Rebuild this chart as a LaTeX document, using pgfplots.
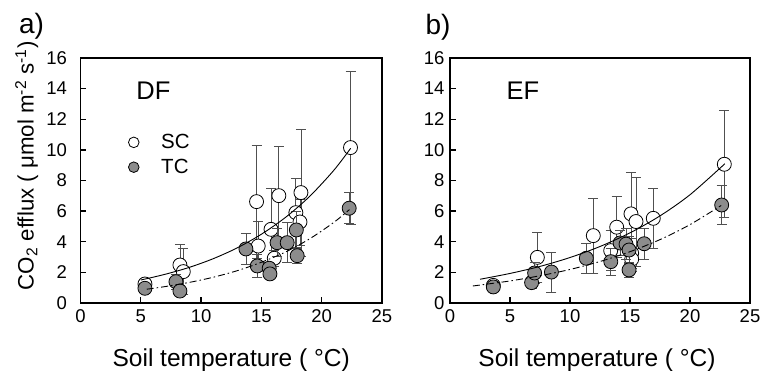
\documentclass[border=0pt]{standalone}
\usepackage{fontspec}
\setmainfont{Liberation Sans}
\usepackage{pgfplots}
\pgfplotsset{compat=1.18}
\definecolor{tcgray}{HTML}{8C8C8C}
\definecolor{ebgray}{HTML}{505050}
\pgfplotsset{
  myax/.style={
    scale only axis, height=245pt, clip mode=individual,
    xmin=0, xmax=25, ymin=0, ymax=16,
    xtick={0,5,...,25}, ytick={0,2,...,16},
    tick align=inside, tick pos=left, major tick length=6pt,
    axis line style={line width=1.6pt},
    every tick/.style={line width=1.4pt, black},
    tick label style={font=\fontsize{18.5}{20}\selectfont},
    xticklabel style={yshift=-3pt},
    /pgf/number format/assume math mode=true,
  },
  scstyle/.style={only marks, mark=*, mark size=7pt, black,
    mark options={draw=black, fill=white, line width=0.8pt},
    error bars/.cd, y dir=both, y explicit,
    error bar style={line width=0.8pt, ebgray},
    error mark options={rotate=90, ebgray, line width=0.8pt, mark size=5pt}, /pgfplots/.cd},
  tcstyle/.style={only marks, mark=*, mark size=7pt, black,
    mark options={draw=black, fill=tcgray, line width=0.8pt},
    error bars/.cd, y dir=both, y explicit,
    error bar style={line width=0.8pt, ebgray},
    error mark options={rotate=90, ebgray, line width=0.8pt, mark size=5pt}, /pgfplots/.cd},
}
\begin{document}
\begin{tikzpicture}
\useasboundingbox (0,0) rectangle (773pt,371pt);
% ---------------- panel a ----------------
\begin{axis}[myax, width=301.6pt, at={(80.4pt,68pt)}, anchor=south west,
  yticklabel style={xshift=-10pt},
  legend style={at={(axis cs:3.7,11.15)}, anchor=north west, draw=none, fill=none,
    font=\fontsize{20.5}{23}\selectfont, row sep=5pt, inner sep=0pt},
  legend cell align=left]
\addlegendimage{legend image code/.code={\draw[black, fill=white, line width=0.8pt] (0.3cm,0cm) circle (5.3pt); \path[draw=none] (0cm,0cm) -- (34pt,0cm);}}
\addlegendentry{SC}
\addlegendimage{legend image code/.code={\draw[black, fill=tcgray, line width=0.8pt] (0.3cm,0cm) circle (5.3pt); \path[draw=none] (0cm,0cm) -- (34pt,0cm);}}
\addlegendentry{TC}
\addplot[forget plot, scstyle] table[x=x, y=y, y error=e] {
x y e
5.35 1.24 0.2
8.25 2.48 1.35
8.53 2.05 1.5
14.60 6.62 3.7
14.74 3.72 1.6
15.80 4.81 2.7
16.07 2.92 0.5
16.45 7.01 3.2
17.86 5.90 2.25
18.20 5.29 1.5
18.28 7.21 4.15
22.39 10.15 5.0
};
\addplot[forget plot, tcstyle] table[x=x, y=y, y error=e] {
x y e
5.35 0.96 0.15
7.92 1.39 0.5
8.25 0.78 0.3
13.72 3.53 1.0
14.66 2.42 0.75
15.65 2.27 0.4
15.71 1.90 0.3
16.30 3.94 0.9
17.14 3.94 1.3
17.90 4.77 1.2
17.97 3.09 0.5
22.28 6.19 1.0
};
\addplot[forget plot, smooth, black, line width=0.9pt] coordinates {
(5,1.50) (7,1.87) (9,2.32) (11,2.89) (13,3.60) (15,4.49) (17,5.59) (19,6.96) (21,8.66) (22.4,10.10)};
\addplot[forget plot, smooth, black, line width=0.9pt, dash pattern=on 7pt off 3pt on 1.5pt off 3pt] coordinates {
(5.5,0.90) (7,1.07) (9,1.34) (11,1.68) (13,2.11) (15,2.66) (17,3.33) (19,4.19) (21,5.26) (22.3,6.10)};
\node[anchor=base west, font=\fontsize{25.5}{28}\selectfont] at (axis cs:4.35,13.27) {DF};
\node[anchor=base west, font=\fontsize{28}{32}\selectfont] at (axis description cs:-0.215,1.102) {a)};
\node[anchor=base, font=\fontsize{24.5}{28}\selectfont] at (axis description cs:0.5,-0.26) {Soil temperature ( °C)};
\node[anchor=base, rotate=90, font=\fontsize{22.3}{26}\selectfont] at (axis description cs:-0.155,0.56) {CO\textsubscript{2} efflux ( μmol m\textsuperscript{-2} s\textsuperscript{-1})};
\end{axis}
% ---------------- panel b ----------------
\begin{axis}[myax, width=300pt, at={(450pt,68pt)}, anchor=south west,
  yticklabel style={xshift=-2pt}]
\addplot[scstyle] table[x=x, y=y, y error=e] {
x y e
3.61 1.15 0.2
7.28 2.98 1.64
11.94 4.40 2.44
13.39 3.42 1.3
13.89 4.95 2.0
15.08 5.82 2.7
15.14 3.25 1.0
15.14 2.86 0.8
15.50 5.32 2.9
16.94 5.53 1.94
22.86 9.06 3.5
};
\addplot[tcstyle] table[x=x, y=y, y error=e] {
x y e
3.61 1.05 0.25
6.80 1.33 0.4
7.05 1.96 0.7
8.45 2.02 1.3
11.36 2.92 1.0
13.40 2.70 0.87
14.17 3.92 0.8
14.67 3.84 1.0
14.92 3.46 0.9
14.92 2.16 0.5
16.18 3.87 1.0
22.64 6.40 1.25
};
\addplot[smooth, black, line width=0.9pt] coordinates {
(2.5,1.55) (5,1.93) (7.5,2.39) (10,2.97) (12.5,3.69) (15,4.58) (17.5,5.69) (20,7.07) (22.9,9.09)};
\addplot[smooth, black, line width=0.9pt, dash pattern=on 7pt off 3pt on 1.5pt off 3pt] coordinates {
(1.9,1.11) (5,1.44) (7.5,1.78) (10,2.19) (12.5,2.71) (15,3.35) (17.5,4.14) (20,5.12) (22.6,6.37)};
\node[anchor=base west, font=\fontsize{25.5}{28}\selectfont] at (axis cs:4.42,13.27) {EF};
\node[anchor=base west, font=\fontsize{28}{32}\selectfont] at (axis description cs:-0.093,1.094) {b)};
\node[anchor=base, font=\fontsize{24.5}{28}\selectfont] at (axis description cs:0.49,-0.26) {Soil temperature ( °C)};
\end{axis}
\end{tikzpicture}
\end{document}
